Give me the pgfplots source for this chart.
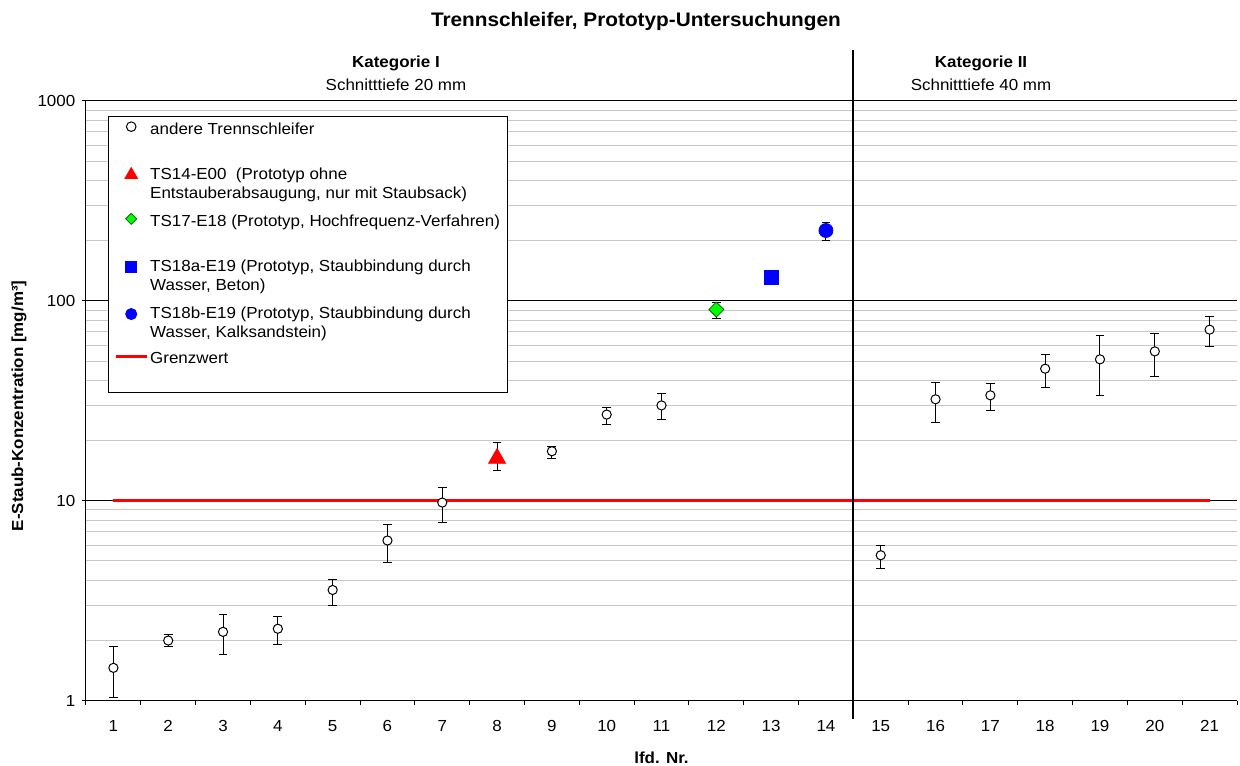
\documentclass[border=0pt]{standalone}
\usepackage{fontspec}
\setmainfont{Liberation Sans}[FakeStretch=1.06]
\usepackage{pgfplots}
\pgfplotsset{compat=1.18}
\usepackage{pgfplotstable}

\definecolor{tsred}{HTML}{FF0000}
\definecolor{tsblue}{HTML}{0000FF}
\definecolor{tsgreen}{HTML}{00FF00}
\definecolor{gridgray}{HTML}{C8C8C8}

\pgfplotstableread{
x y ep em
1 1.46 0.40 0.42
2 2.00 0.15 0.14
3 2.21 0.48 0.50
4 2.29 0.35 0.38
5 3.58 0.47 0.57
6 6.33 1.31 1.44
7 9.80 1.80 2.04
9 17.7 1.00 1.50
10 27.0 2.40 3.00
11 30.0 4.30 4.50
15 5.34 0.63 0.78
16 32.2 6.80 7.60
17 33.7 4.80 5.40
18 45.8 8.00 9.00
19 51.0 16.3 17.2
20 55.9 13.0 14.1
21 71.8 12.2 12.8
}\others

\pgfplotstableread{
x y ep em
8 16.3 3.3 2.1
}\tsA

\pgfplotstableread{
x y ep em
12 90.5 7.9 8.5
}\tsB

\pgfplotstableread{
x y
13 131
}\tsC

\pgfplotstableread{
x y ep em
14 225 23 24
}\tsD

\pgfplotstableread{
x y
1 10
21 10
}\limitline

\pgfplotsset{mylegimg/.style={legend image code/.code={%
  \draw[mark repeat=2,mark phase=2,##1] plot coordinates {(0pt,0pt) (7.75pt,0pt) (15.5pt,0pt)};}}}

% single legend line: height 8.65pt, depth 2.85pt
\newcommand\ls{\rule[-2.85pt]{0pt}{11.5pt}}
% two-line legend entry, reported like a single line (rest overflows into a spacer row)
\newcommand\twoline[2]{\raisebox{0pt}[8.65pt][2.85pt]{\vtop{\hbox{\rule{0pt}{8.65pt}#1}\hbox{#2}}}}

\begin{document}
\fontsize{8}{9.5}\selectfont
\begin{tikzpicture}
\begin{axis}[
  name=ax,
  scale only axis,
  width=575.5pt, height=299.85pt,
  ymode=log, ymin=1, ymax=1000,
  xmin=0.5, xmax=21.5,
  xtick={1,...,21},
  extra x ticks={0.5,1.5,...,21.5},
  extra x tick style={xticklabel=\empty, major tick length=2pt},
  ytick={1,10,100,1000},
  yticklabels={1,10,100,1000},
  extra y ticks={1,10,100,1000},
  extra y tick style={yticklabel=\empty, major tick length=2pt},
  axis lines*=left,
  tick align=outside,
  major tick length=0pt,
  minor tick length=0pt,
  ymajorgrids, yminorgrids,
  major grid style={black, line width=0.5pt},
  minor grid style={gridgray, line width=0.5pt},
  axis line style={black, line width=0.5pt},
  tick style={black, line width=0.5pt},
  /pgf/number format/assume math mode=true,
  xticklabel style={anchor=base, yshift=-15.5pt},
  yticklabel style={anchor=east, xshift=-2.5pt},
  xlabel={\bfseries lfd. Nr.},
  xlabel style={at={(rel axis cs:0.5,0)}, anchor=base, yshift=-31.3pt},
  ylabel={\bfseries E-Staub-Konzentration [mg/m³]},
  ylabel style={at={(rel axis cs:0,0.4916)}, anchor=center, yshift=33.5pt},
  clip=false,
  legend cell align=left,
  legend style={at={(rel axis cs:0.0194,0.9758)}, anchor=north west,
    draw=black, line width=0.5pt, fill=white,
    inner xsep=2.7pt, inner ysep=0.4pt, row sep=0pt, column sep=0pt,
    nodes={inner xsep=1pt, inner ysep=0pt}},
]

% legend
\addlegendimage{only marks, mark=*, mark size=2.4pt, mark options={fill=white, draw=black, line width=0.5pt}, mylegimg}
\addlegendentry{\ls andere Trennschleifer}
\addlegendimage{empty legend}
\addlegendentry{\rule{0pt}{11.5pt}}
\addlegendimage{only marks, mark=triangle*, mark size=3.5pt, mark options={fill=tsred, draw=tsred}, yshift=-1.5pt, mylegimg}
\addlegendentry{\twoline{TS14-E00\ \ (Prototyp ohne}{Entstauberabsaugung, nur mit Staubsack)}}
\addlegendimage{empty legend}
\addlegendentry{\rule{0pt}{12.5pt}}
\addlegendimage{only marks, mark=square*, mark size=1.95pt, mark options={rotate=45, fill=tsgreen, draw=black!60!green, line width=0.4pt}, mylegimg}
\addlegendentry{\ls TS17-E18 (Prototyp, Hochfrequenz-Verfahren)}
\addlegendimage{empty legend}
\addlegendentry{\rule{0pt}{11.5pt}}
\addlegendimage{only marks, mark=square*, mark size=2.75pt, mark options={fill=tsblue, draw=tsblue}, yshift=-1.5pt, mylegimg}
\addlegendentry{\twoline{TS18a-E19 (Prototyp, Staubbindung durch}{Wasser, Beton)}}
\addlegendimage{empty legend}
\addlegendentry{\rule{0pt}{12.5pt}}
\addlegendimage{only marks, mark=*, mark size=2.75pt, mark options={fill=tsblue, draw=tsblue}, yshift=-1.5pt, mylegimg}
\addlegendentry{\twoline{TS18b-E19 (Prototyp, Staubbindung durch}{Wasser, Kalksandstein)}}
\addlegendimage{empty legend}
\addlegendentry{\rule{0pt}{11.5pt}}
\addlegendimage{tsred, line width=1.5pt, mylegimg}
\addlegendentry{\ls Grenzwert}
\addlegendimage{empty legend}
\addlegendentry{\rule{0pt}{11.5pt}}

% limit line
\addplot[forget plot, tsred, line width=1.5pt] table[x=x, y=y] {\limitline};

% other grinders
\addplot[forget plot, only marks, mark=*, mark size=2.3pt,
  mark options={fill=white, draw=black, line width=0.5pt},
  error bars/.cd, y dir=both, y explicit,
  error bar style={black, line width=0.5pt},
  error mark options={rotate=90, black, line width=0.5pt, mark size=2.2pt}]
  table[x=x, y=y, y error plus=ep, y error minus=em] {\others};

% TS14
\addplot[forget plot, only marks, mark=triangle*, mark size=4.9pt,
  mark options={fill=tsred, draw=tsred},
  error bars/.cd, y dir=both, y explicit,
  error bar style={black, line width=0.5pt},
  error mark options={rotate=90, black, line width=0.5pt, mark size=2.2pt}]
  table[x=x, y=y, y error plus=ep, y error minus=em] {\tsA};

% TS17
\addplot[forget plot, only marks, mark=square*, mark size=2.65pt,
  mark options={rotate=45, fill=tsgreen, draw=black!60!green, line width=0.4pt},
  error bars/.cd, y dir=both, y explicit,
  error bar style={black, line width=0.5pt},
  error mark options={rotate=90, black, line width=0.5pt, mark size=2.2pt}]
  table[x=x, y=y, y error plus=ep, y error minus=em] {\tsB};

% TS18a
\addplot[forget plot, only marks, mark=square*, mark size=3.5pt,
  mark options={fill=tsblue, draw=tsblue}]
  table[x=x, y=y] {\tsC};

% TS18b
\addplot[forget plot, only marks, mark=*, mark size=3.5pt,
  mark options={fill=tsblue, draw=tsblue},
  error bars/.cd, y dir=both, y explicit,
  error bar style={black, line width=0.5pt},
  error mark options={rotate=90, black, line width=0.5pt, mark size=2.2pt}]
  table[x=x, y=y, y error plus=ep, y error minus=em] {\tsD};

% separator and headings
\draw[black, line width=1pt] (rel axis cs:0.66667,1.085) -- (rel axis cs:0.66667,-0.03);
\node[anchor=base, yshift=37pt, font=\bfseries\fontsize{9.8}{11}\selectfont] at (rel axis cs:0.4778,1) {Trennschleifer, Prototyp-Untersuchungen};
\node[anchor=base, yshift=16.5pt, font=\bfseries] at (rel axis cs:0.2693,1) {Kategorie I};
\node[anchor=base, yshift=5pt] at (rel axis cs:0.2693,1) {Schnitttiefe 20 mm};
\node[anchor=base, yshift=16.5pt, font=\bfseries] at (rel axis cs:0.7776,1) {Kategorie II};
\node[anchor=base, yshift=5pt] at (rel axis cs:0.7776,1) {Schnitttiefe 40 mm};
\end{axis}
\pgfresetboundingbox
\path ([shift={(-43pt,-32.15pt)}]ax.south west) rectangle ([shift={(1.5pt,50.5pt)}]ax.north east);
\end{tikzpicture}
\end{document}
